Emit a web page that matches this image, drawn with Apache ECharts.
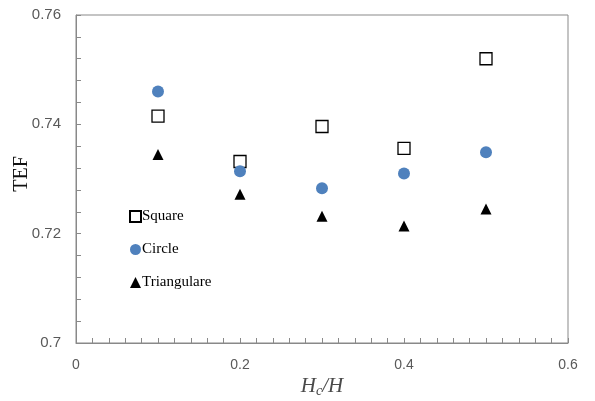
<!DOCTYPE html>
<html>
<head>
<meta charset="utf-8">
<script src="https://cdn.jsdelivr.net/npm/echarts@6/dist/echarts.min.js"></script>
<style>
  html, body { margin: 0; padding: 0; background: #fff; }
  #chart { width: 595px; height: 401px; }
</style>
</head>
<body>
<div id="chart"></div>
<script>
// Relative height Hc/H and thermal enhancement factor per rib shape
const ratios = [0.1, 0.2, 0.3, 0.4, 0.5];
const squareTEF = [0.7415, 0.7332, 0.7396, 0.7356, 0.7520];
const circleTEF = [0.7460, 0.7314, 0.7283, 0.7310, 0.7349];
const triangTEF = [0.7345, 0.7272, 0.7232, 0.7214, 0.7245];
const seriesNames = ['Square', 'Circle', 'Triangulare'];

const pairs = (ys) => ratios.map((x, i) => [x, ys[i]]);

const chart = echarts.init(document.getElementById('chart'), null, { renderer: 'canvas' });

const axisGray = '#898989';
const labelGray = '#595959';
const serif = '"Liberation Serif", "Times New Roman", serif';
const sans = '"Liberation Sans", Arial, sans-serif';

chart.setOption({
  animation: false,
  backgroundColor: '#fff',
  grid: {
    left: 76, top: 15, right: 27, bottom: 58,
    containLabel: false,
    outerBoundsMode: 'none',
    show: true, borderColor: axisGray, borderWidth: 1, backgroundColor: 'transparent'
  },
  legend: {
    orient: 'vertical',
    left: 124, top: 204,
    itemGap: 18,
    itemWidth: 11, itemHeight: 11,
    textStyle: { fontFamily: serif, fontSize: 15, color: '#000', padding: [0, 0, 0, -4] },
    data: seriesNames
  },
  xAxis: {
    type: 'value',
    min: 0, max: 0.6, interval: 0.2,
    name: '{i|H}{s|c}{i|/H}',
    nameLocation: 'middle',
    nameGap: 31,
    nameMoveOverlap: false,
    nameTextStyle: {
      rich: {
        i: { fontFamily: serif, fontStyle: 'italic', fontSize: 21, color: '#4a4a4a' },
        s: { fontFamily: serif, fontStyle: 'italic', fontSize: 14, color: '#4a4a4a', verticalAlign: 'bottom', padding: [10, 0, 0, 0] }
      }
    },
    axisLine: { show: true, lineStyle: { color: axisGray } },
    axisTick: { show: true, inside: true, length: 5, lineStyle: { color: axisGray } },
    minorTick: { show: true, splitNumber: 10, length: 5, lineStyle: { color: axisGray } },
    splitLine: { show: false },
    axisLabel: {
      fontFamily: sans, fontSize: 14, color: labelGray, margin: 15,
      formatter: (v) => (v === 0 ? '0' : String(+v.toFixed(1)))
    }
  },
  yAxis: {
    type: 'value',
    min: 0.7, max: 0.76, interval: 0.02,
    name: 'TEF',
    nameLocation: 'middle',
    nameGap: 44,
    nameMoveOverlap: false,
    nameTextStyle: { fontFamily: serif, fontSize: 20, color: '#111', padding: [0, 0, 0, 10] },
    axisLine: { show: true, lineStyle: { color: axisGray } },
    axisTick: { show: true, inside: true, length: 5, lineStyle: { color: axisGray } },
    minorTick: { show: true, splitNumber: 5, length: 5, lineStyle: { color: axisGray } },
    splitLine: { show: false },
    axisLabel: {
      fontFamily: sans, fontSize: 15, color: labelGray, margin: 15,
      formatter: (v) => (Math.abs(v - 0.7) < 1e-9 ? '0.7' : v.toFixed(2))
    }
  },
  series: [
    {
      name: seriesNames[0], type: 'scatter', data: pairs(squareTEF),
      symbol: 'rect', symbolSize: 12,
      itemStyle: { color: '#fff', borderColor: '#000', borderWidth: 1.3, opacity: 1 }
    },
    {
      name: seriesNames[1], type: 'scatter', data: pairs(circleTEF),
      symbol: 'circle', symbolSize: 12,
      itemStyle: { color: '#4F81BD', opacity: 1 }
    },
    {
      name: seriesNames[2], type: 'scatter', data: pairs(triangTEF),
      symbol: 'triangle', symbolSize: 11,
      itemStyle: { color: '#000', opacity: 1 }
    }
  ]
});
</script>
</body>
</html>
